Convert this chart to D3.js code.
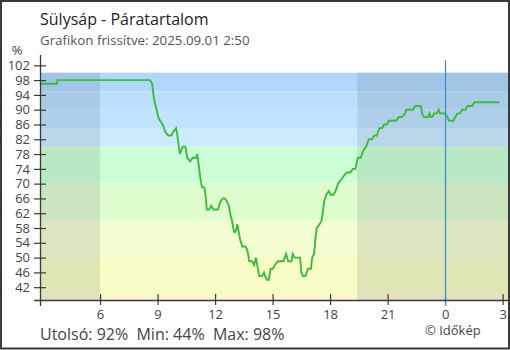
<!DOCTYPE html>
<html><head><meta charset="utf-8">
<script src="https://cdn.jsdelivr.net/npm/d3@7"></script>
<style>
html,body{margin:0;padding:0;background:#fff;}
svg{display:block;font-family:"Open Sans",sans-serif;}
</style></head>
<body><svg id="c" width="510" height="350"></svg>
<script>
// ---- data ----
const title = "Sülysáp - Páratartalom";
const subtitle = "Grafikon frissítve: 2025.09.01 2:50";
const times = [
"2025-08-31 02:52","2025-08-31 03:45","2025-08-31 03:47","2025-08-31 08:37","2025-08-31 08:43","2025-08-31 08:47","2025-08-31 08:51","2025-08-31 08:57",
"2025-08-31 09:02","2025-08-31 09:08","2025-08-31 09:16","2025-08-31 09:24","2025-08-31 09:33","2025-08-31 09:43","2025-08-31 09:49","2025-08-31 09:58",
"2025-08-31 10:02","2025-08-31 10:05","2025-08-31 10:10","2025-08-31 10:14","2025-08-31 10:19","2025-08-31 10:27","2025-08-31 10:33","2025-08-31 10:42",
"2025-08-31 10:50","2025-08-31 11:01","2025-08-31 11:04","2025-08-31 11:09","2025-08-31 11:13","2025-08-31 11:19","2025-08-31 11:26","2025-08-31 11:30",
"2025-08-31 11:34","2025-08-31 11:42","2025-08-31 11:48","2025-08-31 11:55","2025-08-31 12:09","2025-08-31 12:16","2025-08-31 12:24","2025-08-31 12:31",
"2025-08-31 12:38","2025-08-31 12:43","2025-08-31 12:47","2025-08-31 12:53","2025-08-31 12:59","2025-08-31 13:04","2025-08-31 13:10","2025-08-31 13:14",
"2025-08-31 13:18","2025-08-31 13:25","2025-08-31 13:35","2025-08-31 13:41","2025-08-31 13:47","2025-08-31 13:56","2025-08-31 14:02","2025-08-31 14:08",
"2025-08-31 14:12","2025-08-31 14:18","2025-08-31 14:27","2025-08-31 14:33","2025-08-31 14:37","2025-08-31 14:42","2025-08-31 14:48","2025-08-31 14:54",
"2025-08-31 15:01","2025-08-31 15:07","2025-08-31 15:17","2025-08-31 15:34","2025-08-31 15:42","2025-08-31 15:49","2025-08-31 15:59","2025-08-31 16:03",
"2025-08-31 16:09","2025-08-31 16:26","2025-08-31 16:30","2025-08-31 16:35","2025-08-31 16:43","2025-08-31 16:51","2025-08-31 17:00","2025-08-31 17:04",
"2025-08-31 17:10","2025-08-31 17:14","2025-08-31 17:18","2025-08-31 17:27","2025-08-31 17:33","2025-08-31 17:37","2025-08-31 17:41","2025-08-31 17:48",
"2025-08-31 17:56","2025-08-31 18:02","2025-08-31 18:11","2025-08-31 18:17","2025-08-31 18:25","2025-08-31 18:34","2025-08-31 18:42","2025-08-31 18:52",
"2025-08-31 19:03","2025-08-31 19:11","2025-08-31 19:19","2025-08-31 19:24","2025-08-31 19:27","2025-08-31 19:36","2025-08-31 19:44","2025-08-31 19:53",
"2025-08-31 20:01","2025-08-31 20:11","2025-08-31 20:18","2025-08-31 20:26","2025-08-31 20:34","2025-08-31 20:43","2025-08-31 20:49","2025-08-31 20:57",
"2025-08-31 21:04","2025-08-31 21:27","2025-08-31 21:35","2025-08-31 21:45","2025-08-31 21:55","2025-08-31 21:58","2025-08-31 22:19","2025-08-31 22:27",
"2025-08-31 22:44","2025-08-31 22:48","2025-08-31 22:54","2025-08-31 23:07","2025-08-31 23:11","2025-08-31 23:15","2025-08-31 23:19","2025-08-31 23:26",
"2025-08-31 23:34","2025-08-31 23:40","2025-08-31 23:44","2025-09-01 00:01","2025-09-01 00:07","2025-09-01 00:13","2025-09-01 00:26","2025-09-01 00:32",
"2025-09-01 00:39","2025-09-01 00:47","2025-09-01 00:53","2025-09-01 01:04","2025-09-01 01:10","2025-09-01 01:25","2025-09-01 01:31","2025-09-01 02:50"
];
const humidity = [
97,97,98,98,97,94,92,90,
88,87,86,84,83,83,84,85,
83,81,78,79,80,80,77,76,
77,77,78,75,72,69,69,67,
63,63,64,63,63,65,66,66,
65,64,62,60,57,57,59,57,
55,53,53,52,49,49,48,50,
48,45,45,46,45,44,44,47,
47,48,49,49,51,49,49,51,
50,50,46,45,45,47,47,50,
51,55,58,59,60,62,65,67,
68,67,67,68,70,71,72,73,
73,74,74,76,77,77,79,80,
82,82,83,83,85,85,86,86,
87,87,88,88,89,90,90,91,
91,89,88,88,89,88,88,89,
89,90,89,89,88,87,87,88,
89,89,90,90,91,91,92,92
];
const xDomain = ["2025-08-31 02:52","2025-09-01 03:20"];
const xTickTimes = ["2025-08-31 06:00","2025-08-31 09:00","2025-08-31 12:00","2025-08-31 15:00","2025-08-31 18:00","2025-08-31 21:00","2025-09-01 00:00","2025-09-01 03:00"];
const midnight = "2025-09-01 00:00";
const nightPeriods = [["2025-08-31 02:52","2025-08-31 06:00"],["2025-08-31 19:25","2025-09-01 03:20"]];
const yTicks = [42,46,50,54,58,62,66,70,74,78,82,86,90,94,98,102];
const yDomain = [38.4,102];
const bandBreaks = [100,95,90,85,80,70,60,50,40,38.4];
const bandColors = ["#b1d8fc","#bbdffd","#c1e4fe","#ccebff","#ccffd6","#e0fdd0","#f2fdd2","#f8fcc4","#fdf4d2"];
const statsText = "Utolsó: 92%  Min: 44%  Max: 98%";
const credit = "© Időkép";

// ---- drawing ----
const parse = d3.timeParse("%Y-%m-%d %H:%M");
const svg = d3.select("#c");
const x = d3.scaleTime().domain(xDomain.map(parse)).range([40,509]);
const y = d3.scaleLinear().domain(yDomain).range([300.5,65.3]);
const plotTop = y(100), plotBottom = y(yDomain[0]);

// bands
for (let i=0;i<bandColors.length;i++){
  svg.append("rect").attr("x",40).attr("width",469)
    .attr("y",y(bandBreaks[i])).attr("height",y(bandBreaks[i+1])-y(bandBreaks[i]))
    .attr("fill",bandColors[i]);
}
// night
nightPeriods.forEach(p=>{
  const a=x(parse(p[0])), b=x(parse(p[1]));
  svg.append("rect").attr("x",a).attr("width",b-a).attr("y",plotTop).attr("height",plotBottom-plotTop)
    .attr("fill","rgba(20,30,50,0.1)");
});

// line
const data = times.map((t,i)=>({t:parse(t),v:humidity[i]}));
svg.append("path").datum(data)
  .attr("d",d3.line().x(d=>x(d.t)).y(d=>y(d.v)))
  .attr("fill","none").attr("stroke","#3dbb3d").attr("stroke-width",1.9).attr("stroke-linejoin","miter");

// midnight line
const mx = Math.round(x(parse(midnight)))+0.5;
svg.append("line").attr("x1",mx).attr("x2",mx).attr("y1",60).attr("y2",306)
  .attr("stroke","#3b8fd2").attr("stroke-width",1.3);

// axes
const axisColor="#3a3a3a";
const yAxis = svg.append("g").attr("transform","translate(40,0)")
  .call(d3.axisLeft(y).tickValues(yTicks).tickSize(6).tickPadding(10));
yAxis.select(".domain").remove();
yAxis.selectAll("line").attr("x1",-6).attr("x2",6).attr("stroke",axisColor).attr("stroke-width",1.2);
yAxis.selectAll("text").attr("font-size",13).attr("fill","#444").attr("font-family","Open Sans").attr("x",-10);

const xAxis = svg.append("g").attr("transform","translate(0,300)")
  .call(d3.axisBottom(x).tickValues(xTickTimes.map(parse)).tickSize(6).tickFormat(d3.timeFormat("%-H")));
xAxis.select(".domain").remove();
xAxis.selectAll("line").attr("y1",-6).attr("y2",5).attr("stroke",axisColor).attr("stroke-width",1.2);
xAxis.selectAll("text").attr("font-size",13).attr("fill","#444").attr("font-family","Open Sans").attr("y",10);
xAxis.selectAll(".tick").filter(d=>+d===+parse(midnight)).select("line").attr("stroke","#3b8fd2");

svg.append("line").attr("x1",40.5).attr("x2",40.5).attr("y1",55).attr("y2",306).attr("stroke",axisColor).attr("stroke-width",1.3);
svg.append("line").attr("x1",34).attr("x2",509).attr("y1",300.5).attr("y2",300.5).attr("stroke",axisColor).attr("stroke-width",1.3);

// texts
svg.append("text").attr("x",40).attr("y",24.5).attr("font-size",16).attr("fill","#222").text(title);
svg.append("text").attr("x",40).attr("y",45).attr("font-size",13.3).attr("fill","#555").text(subtitle);
svg.append("text").attr("x",17).attr("y",55).attr("text-anchor","middle").attr("font-size",13).attr("fill","#444").text("%");
svg.append("text").attr("x",40).attr("y",339.5).attr("font-size",16).attr("fill","#444").style("white-space","pre").text(statsText);
svg.append("text").attr("x",425).attr("y",335).attr("font-size",13).attr("fill","#444").text(credit);

// frame
svg.append("rect").attr("x",1).attr("y",1).attr("width",508).attr("height",347.5)
  .attr("fill","none").attr("stroke","#3a3a3a").attr("stroke-width",2);
</script></body></html>
